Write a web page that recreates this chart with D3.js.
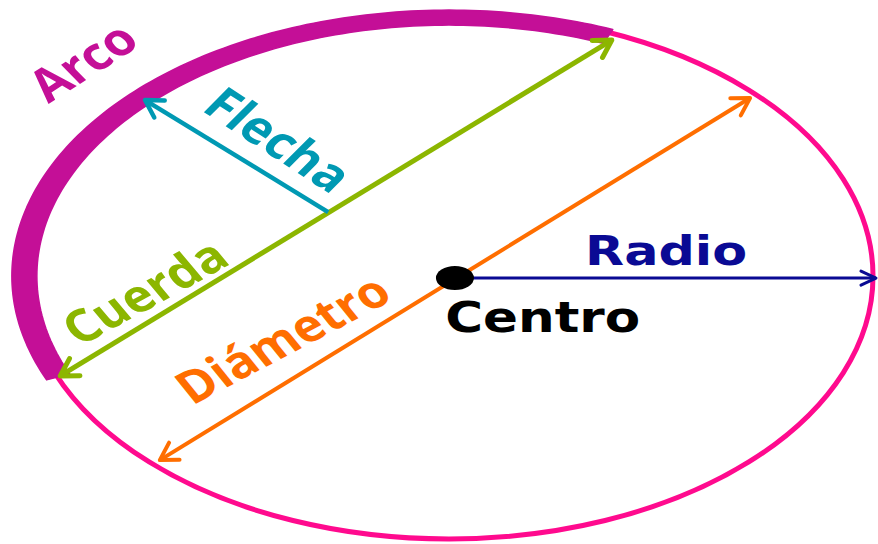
<!DOCTYPE html>
<html>
<head>
<meta charset="utf-8">
<script src="https://cdn.jsdelivr.net/npm/d3@7"></script>
<style>
  body { margin: 0; background: #fff; }
  svg { display: block; }
</style>
</head>
<body>
<div id="container"></div>
<script>
// geometry in unit-circle coordinates (circle = radius 1)
var segNames = ["Cuerda", "Diámetro", "Radio", "Flecha"];
var segX1 = [-0.917, -0.682, 0.014, -0.285];
var segY1 = [0.380, 0.700, 0.008, -0.243];
var segX2 = [0.384, 0.710, 1.007, -0.717];
var segY2 = [-0.897, -0.677, 0.008, -0.669];
var segBoth = [true, true, false, false];

// the thick "arco" band, in degrees along the circle
var arcStart = 157, arcEnd = 292;

var labels = ["Arco", "Flecha", "Cuerda", "Diámetro", "Radio", "Centro"];
var labelX = [-0.863, -0.403, -0.717, -0.392, 0.321, -0.009];
var labelY = [-0.814, -0.517, 0.061, 0.240, -0.042, 0.213];
var labelAngle = [-38.3, 38.8, -34.2, -33.2, 0, 0];

var centerX = 0.014, centerY = 0.008;

// enter code to define svg
var w = 878, h = 544;
var svg = d3.select("div#container")
    .append("svg")
    .attr("width", w)
    .attr("height", h)
    .attr("viewBox", "0 0 " + w + " " + h);

var x = d3.scaleLinear().domain([-1, 1]).range([25, 873]);
var y = d3.scaleLinear().domain([-1, 1]).range([13, 539]);

var colors = {
    "Arco": "#c40f97",
    "Flecha": "#0099b3",
    "Cuerda": "#8cb600",
    "Diámetro": "#ff6e00",
    "Radio": "#0a0a94",
    "Centro": "#000000"
};
var widths = {"Cuerda": 5, "Diámetro": 4, "Radio": 3, "Flecha": 4.5};

// arrow markers (open chevrons)
var defs = svg.append("defs");
segNames.forEach(function(name, i) {
    var L = name === "Radio" ? 15 : 17, W = name === "Radio" ? 7 : 10;
    defs.append("marker")
        .attr("id", "arrow" + i)
        .attr("markerUnits", "userSpaceOnUse")
        .attr("viewBox", "-30 -20 40 40")
        .attr("refX", 0).attr("refY", 0)
        .attr("markerWidth", 40).attr("markerHeight", 40)
        .attr("orient", "auto-start-reverse")
        .append("path")
        .attr("d", "M" + (-L) + "," + (-W) + "L0,0L" + (-L) + "," + W)
        .attr("fill", "none")
        .attr("stroke", colors[name])
        .attr("stroke-width", widths[name])
        .attr("stroke-linecap", "round")
        .attr("stroke-linejoin", "round");
});

// circle outline
svg.append("ellipse")
    .attr("cx", x(0)).attr("cy", y(0))
    .attr("rx", x(1) - x(0)).attr("ry", y(1) - y(0))
    .attr("fill", "none")
    .attr("stroke", "#ff0a8e")
    .attr("stroke-width", 5);

// arco band: between an outer and inner ring
var rad = Math.PI / 180;
var angles = d3.range(arcStart, arcEnd + 0.5, 1);
var outer = angles.map(function(a) { return [x(1.031 * Math.cos(a * rad)), y(1.011 * Math.sin(a * rad))]; });
var inner = angles.map(function(a) { return [x(0.972 * Math.cos(a * rad)), y(0.954 * Math.sin(a * rad))]; }).reverse();
svg.append("path")
    .attr("d", d3.line().curve(d3.curveLinearClosed)(outer.concat(inner)))
    .attr("fill", colors["Arco"])
    .attr("stroke", colors["Arco"])
    .attr("stroke-width", 1.5)
    .attr("stroke-linejoin", "round");

// segments
svg.selectAll("line.seg")
    .data(segNames)
    .enter()
    .append("line")
    .attr("class", "seg")
    .attr("x1", function(d, i) { return x(segX1[i]); })
    .attr("y1", function(d, i) { return y(segY1[i]); })
    .attr("x2", function(d, i) { return x(segX2[i]); })
    .attr("y2", function(d, i) { return y(segY2[i]); })
    .attr("stroke", function(d) { return colors[d]; })
    .attr("stroke-width", function(d) { return widths[d]; })
    .attr("marker-end", function(d, i) { return "url(#arrow" + i + ")"; })
    .attr("marker-start", function(d, i) { return segBoth[i] ? "url(#arrow" + i + ")" : null; });

// centre dot
svg.append("ellipse")
    .attr("cx", x(centerX)).attr("cy", y(centerY))
    .attr("rx", 19).attr("ry", 12)
    .attr("fill", "#000");

// labels
var stretch = 1.24;
var lengths = [96, 136, 149, 195, 162, 195];
labels.forEach(function(t, i) {
    var rotated = labelAngle[i] !== 0;
    var txt = svg.append("text")
        .text(t)
        .attr("fill", colors[t])
        .attr("font-weight", "bold")
        .attr("textLength", lengths[i])
        .attr("lengthAdjust", "spacingAndGlyphs");
    if (rotated) {
        txt.attr("font-family", "'Open Sans', sans-serif")
           .attr("font-size", 45)
           .attr("text-anchor", "middle")
           .attr("dy", "0.35em")
           .attr("transform", "translate(" + x(labelX[i]) + "," + y(labelY[i]) + ") scale(" + stretch + ",1) rotate(" + labelAngle[i] + ")");
    } else {
        txt.attr("font-family", "'DejaVu Sans', sans-serif")
           .attr("font-size", t === "Radio" ? 41 : 43)
           .attr("x", x(labelX[i]))
           .attr("y", y(labelY[i]));
    }
});
</script>
</body>
</html>
